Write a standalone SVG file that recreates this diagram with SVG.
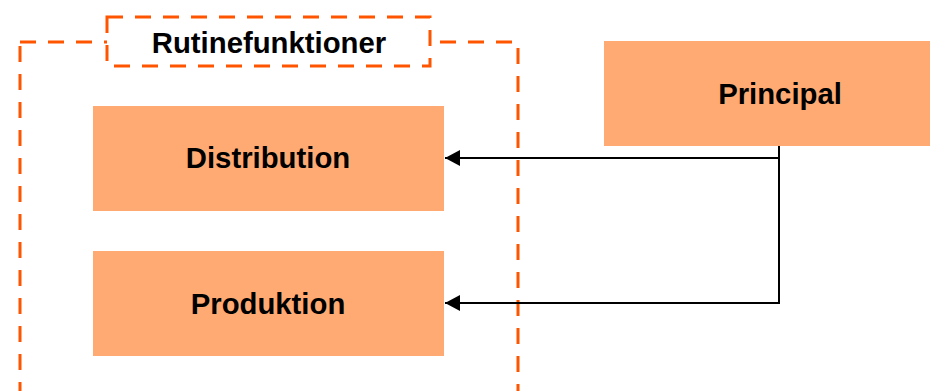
<svg xmlns="http://www.w3.org/2000/svg" width="930" height="391" viewBox="0 0 930 391">
  <style>
    .box { fill: #FFAA72; }
    .label { font-family: "Liberation Sans", Arial, sans-serif; font-weight: bold; font-size: 29.3px; fill: #000; text-anchor: middle; }
    .dash { fill: none; stroke: #FF5500; stroke-width: 3; stroke-dasharray: 16 12; }
    .wire { fill: none; stroke: #000; stroke-width: 2; }
  </style>
  <defs>
    <marker id="arrow" markerWidth="15" markerHeight="16" refX="15" refY="8" orient="auto" markerUnits="userSpaceOnUse">
      <path d="M0,0 L15,8 L0,16 Z" fill="#000"/>
    </marker>
  </defs>
  <rect width="930" height="391" fill="#fff"/>

  <!-- routine functions group frame -->
  <g id="rutinefunktioner">
    <rect class="dash" x="20" y="42" width="498" height="380"/>
    <rect class="dash" x="107" y="17" width="323" height="49" style="fill:#fff"/>
    <text class="label" x="269" y="53">Rutinefunktioner</text>
  </g>

  <g id="distribution">
    <rect class="box" x="93" y="106" width="351" height="105"/>
    <text class="label" x="268" y="168">Distribution</text>
  </g>

  <g id="produktion">
    <rect class="box" x="93" y="251" width="351" height="105"/>
    <text class="label" x="268" y="314">Produktion</text>
  </g>

  <g id="principal">
    <rect class="box" x="604" y="41" width="330" height="105"/>
    <text class="label" x="780" y="104">Principal</text>
  </g>

  <g id="connectors">
    <path class="wire" d="M779,146 V158 H445" marker-end="url(#arrow)"/>
    <path class="wire" d="M779,158 V303 H445" marker-end="url(#arrow)"/>
  </g>
</svg>
